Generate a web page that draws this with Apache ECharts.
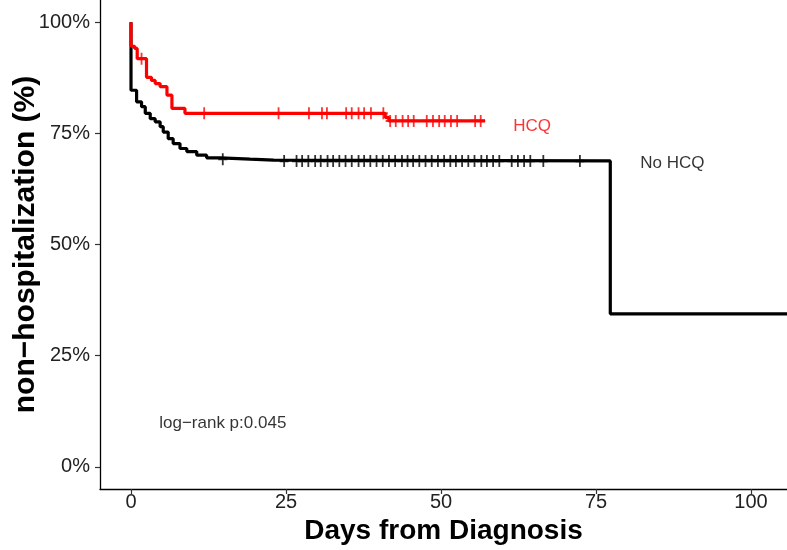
<!DOCTYPE html>
<html>
<head>
<meta charset="utf-8">
<script src="https://cdn.jsdelivr.net/npm/echarts@6/dist/echarts.min.js"></script>
<style>html,body{margin:0;padding:0;background:#fff}#c{width:787px;height:550px}</style>
</head>
<body>
<div id="c"></div>
<script>
// ---- data ----
// Kaplan-Meier step points [day, survival %] (No HCQ)
const noHcqSteps = [
  [0,100],[0,84.7],[0.9,82.1],[1.7,81.0],[2.3,79.5],[3.1,78.3],[3.9,77.6],[4.7,76.5],
  [5.2,75.3],[6.0,73.8],[6.8,72.7],[7.9,71.6],[9.0,70.9],[10.6,70.1],[12.2,69.5],
  [14.4,69.2],[19.2,69.0],[23.0,68.8],[77.3,34.4],[105.8,34.4]
];
// HCQ step points
const hcqSteps = [
  [0,100],[0,94.6],[0.6,94.1],[1.0,91.8],[2.5,87.6],[3.3,86.9],[3.9,86.2],[4.7,85.5],
  [5.8,83.6],[6.6,80.6],[8.7,79.5],[41.0,78.6],[41.6,77.8],[57.1,77.8]
];
// censoring times (days)
const noHcqCensor = [14.8,24.7,26.7,27.6,28.6,29.7,30.6,31.7,32.6,33.6,34.6,35.6,36.7,37.6,
  38.6,39.6,40.6,41.6,42.6,43.7,44.6,45.5,46.5,47.5,48.5,49.5,50.5,51.5,52.4,53.4,54.4,
  55.4,56.5,57.4,58.4,59.4,61.4,62.4,63.4,64.4,66.5,72.4];
const hcqCensor = [1.7,11.8,23.8,28.7,30.8,31.6,34.7,35.6,36.7,37.6,38.7,40.7,41.8,42.7,
  43.8,44.7,45.6,47.7,48.7,49.7,50.6,51.6,52.6,55.5,56.4];
const xTicks = [0,25,50,75,100];
const yTicks = [0,25,50,75,100];
const annotations = [
  {text:'HCQ', day:64.7, surv:76.6, color:'#FF0000'},
  {text:'No HCQ', day:87.3, surv:68.3, color:'#000000'},
  {text:'log\u2212rank p:0.045', day:14.8, surv:9.7, color:'#000000'}
];

function survAt(steps, t){
  let s = steps[0][1];
  for (const p of steps){ if (p[0] <= t) s = p[1]; else break; }
  return s;
}
const plus = 'path://M4,0H6V4H10V6H6V10H4V6H0V4H4Z';
const font = 'Liberation Sans, Arial, Helvetica, sans-serif';

const chart = echarts.init(document.getElementById('c'));
chart.setOption({
  animation:false,
  backgroundColor:'#fff',
  grid:{left:100,right:0,top:0,bottom:61,containLabel:false,outerBoundsMode:'none'},
  xAxis:{
    type:'value', min:-5, max:105.8,
    name:'Days from Diagnosis', nameLocation:'middle', nameGap:28,
    nameTextStyle:{fontFamily:font,fontWeight:'bold',fontSize:28,color:'#000'},
    axisLine:{show:true,onZero:false,lineStyle:{color:'#000',width:1.3}},
    axisTick:{show:true,length:5,lineStyle:{color:'#333',width:1.2},customValues:xTicks},
    axisLabel:{fontFamily:font,fontSize:20,color:'#222',margin:3,customValues:xTicks},
    splitLine:{show:false}
  },
  yAxis:{
    type:'value', min:-5, max:105,
    name:'non\u2212hospitalization (%)', nameLocation:'middle', nameGap:59, nameRotate:90,
    nameMoveOverlap:false,
    nameTextStyle:{fontFamily:font,fontWeight:'bold',fontSize:30,color:'#000'},
    axisLine:{show:true,onZero:false,lineStyle:{color:'#000',width:1.3}},
    axisTick:{show:true,length:5,lineStyle:{color:'#333',width:1.2},customValues:yTicks},
    axisLabel:{fontFamily:font,fontSize:20,color:'#222',margin:10,customValues:yTicks,
      formatter:v=>v+'%'},
    splitLine:{show:false}
  },
  series:[
    {type:'line',step:'end',data:noHcqSteps,showSymbol:false,symbol:'none',
     lineStyle:{color:'#000',width:3.2},silent:true,z:2},
    {type:'scatter',data:noHcqCensor.map(t=>[t,survAt(noHcqSteps,t)]),symbol:plus,
     symbolSize:[9,12],itemStyle:{color:'#000'},silent:true,z:3},
    {type:'line',step:'end',data:hcqSteps,showSymbol:false,symbol:'none',
     lineStyle:{color:'#FF0000',width:3.2},silent:true,z:4},
    {type:'scatter',data:hcqCensor.map(t=>[t,survAt(hcqSteps,t)]),symbol:plus,
     symbolSize:[9,12],itemStyle:{color:'#FF0000'},silent:true,z:5},
    {type:'scatter',symbolSize:0,silent:true,z:6,
     data:annotations.map(a=>({value:[a.day,a.surv],
       label:{show:true,position:'inside',formatter:a.text,color:a.color,
              fontFamily:font,fontSize:17}}))}
  ]
});
</script>
</body>
</html>
